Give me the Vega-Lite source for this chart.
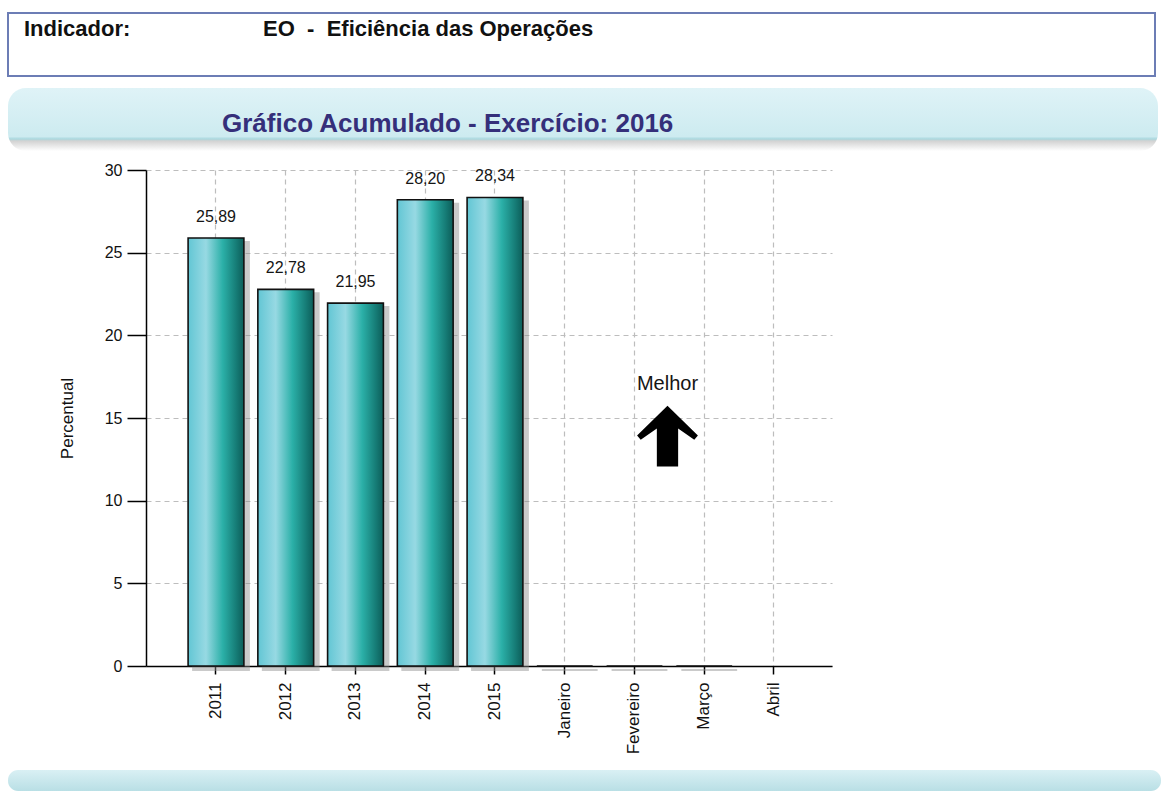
{
  "$schema": "https://vega.github.io/schema/vega-lite/v6.json",
  "background": "white",
  "padding": {"left": 7, "top": 12, "right": 0, "bottom": 0},
  "spacing": 11,
  "bounds": "full",
  "vconcat": [
    {
      "width": 1147,
      "height": 63,
      "view": {"fill": "white", "stroke": "#6c7db5", "strokeWidth": 2},
      "title": {
        "text": "Indicador:\u00a0\u00a0\u00a0\u00a0\u00a0\u00a0\u00a0\u00a0\u00a0\u00a0\u00a0\u00a0\u00a0\u00a0\u00a0\u00a0\u00a0\u00a0\u00a0\u00a0\u00a0\u2009EO\u00a0\u00a0-\u00a0\u00a0Eficiência das Operações",
        "anchor": "start",
        "frame": "group",
        "offset": -45,
        "baseline": "alphabetic",
        "dx": 16,
        "font": "Liberation Sans",
        "fontSize": 22,
        "fontWeight": "bold",
        "color": "#111111"
      },
      "data": {"values": [{"k": 1}]},
      "mark": {"type": "text"},
      "encoding": {"text": {"value": ""}}
    },
    {
      "width": 1150,
      "height": 63,
      "view": {
        "fill": {
          "gradient": "linear", "x1": 0, "y1": 0, "x2": 0, "y2": 1,
          "stops": [
            {"offset": 0, "color": "#dff3f7"},
            {"offset": 0.77, "color": "#cdebf0"},
            {"offset": 0.81, "color": "#a9d7de"},
            {"offset": 0.84, "color": "#d2d2d2"},
            {"offset": 1, "color": "#ffffff"}
          ]
        },
        "stroke": null,
        "cornerRadius": 18
      },
      "title": {
        "text": "Gráfico Acumulado - Exercício: 2016",
        "anchor": "start",
        "frame": "group",
        "offset": -70,
        "baseline": "alphabetic",
        "dx": 214,
        "font": "Liberation Sans",
        "fontSize": 26,
        "fontWeight": "bold",
        "color": "#352f7a"
      },
      "data": {"values": [{"k": 1}]},
      "mark": {"type": "text"},
      "encoding": {"text": {"value": ""}}
    },
    {
      "spacing": 128,
      "bounds": "flush",
      "hconcat": [
        {
          "width": 10,
          "height": 496,
          "data": {"values": [{"k": 1}]},
          "mark": {"type": "text"},
          "encoding": {"text": {"value": ""}}
        },
        {
          "width": 686,
          "height": 496,
          "data": {
            "values": [
              {"periodo": "2011", "percentual": 25.89},
              {"periodo": "2012", "percentual": 22.78},
              {"periodo": "2013", "percentual": 21.95},
              {"periodo": "2014", "percentual": 28.20},
              {"periodo": "2015", "percentual": 28.34},
              {"periodo": "Janeiro", "percentual": 0},
              {"periodo": "Fevereiro", "percentual": 0},
              {"periodo": "Março", "percentual": 0},
              {"periodo": "Abril", "percentual": null}
            ]
          },
          "encoding": {
            "x": {
              "field": "periodo",
              "type": "nominal",
              "sort": null,
              "scale": {
                "domain": ["2011", "2012", "2013", "2014", "2015", "Janeiro", "Fevereiro", "Março", "Abril"],
                "paddingInner": 0.2,
                "paddingOuter": 0.5176,
                "align": 0.583
              },
              "axis": {
                "title": "\u00a0",
                "titleX": 0,
                "titleY": 93,
                "titleAlign": "left",
                "titleBaseline": "bottom",
                "titleFontSize": 10,
                "labelAngle": -90,
                "labelFontSize": 17,
                "labelPadding": 8,
                "tickSize": 8,
                "bandPosition": 0.5,
                "grid": true
              }
            },
            "y": {
              "field": "percentual",
              "type": "quantitative",
              "scale": {"domain": [0, 30], "nice": false, "zero": true},
              "axis": {
                "title": "Percentual",
                "titleFontSize": 17,
                "titleFontWeight": "normal",
                "titlePadding": 28,
                "values": [0, 5, 10, 15, 20, 25, 30],
                "tickSize": 19,
                "labelPadding": 5,
                "labelFontSize": 16,
                "grid": true
              }
            }
          },
          "layer": [
            {
              "mark": {
                "type": "bar",
                "fill": "#8c8c8c",
                "opacity": 0.45,
                "stroke": "#8c8c8c",
                "strokeWidth": 2,
                "xOffset": 5,
                "yOffset": 4,
                "y2Offset": 4
              }
            },
            {
              "mark": {
                "type": "bar",
                "fill": {
                  "gradient": "linear", "x1": 0, "y1": 0, "x2": 1, "y2": 0,
                  "stops": [
                    {"offset": 0, "color": "#62c6d4"},
                    {"offset": 0.32, "color": "#97d9e3"},
                    {"offset": 0.62, "color": "#2bb0a8"},
                    {"offset": 0.85, "color": "#177f79"},
                    {"offset": 1, "color": "#0c5d59"}
                  ]
                },
                "stroke": "#111111",
                "strokeWidth": 1.6
              }
            },
            {
              "transform": [{"filter": "datum.percentual > 0"}],
              "mark": {
                "type": "text",
                "baseline": "alphabetic",
                "dy": -16,
                "fontSize": 16,
                "font": "Liberation Sans",
                "color": "#151515"
              },
              "encoding": {
                "text": {"field": "percentual", "type": "quantitative", "format": ".2f"}
              }
            },
            {
              "data": {"values": [{"periodo": "Fevereiro", "percentual": 16.7, "rotulo": "Melhor"}]},
              "mark": {
                "type": "text",
                "baseline": "alphabetic",
                "dx": 33,
                "fontSize": 20,
                "font": "Liberation Sans",
                "color": "#151515"
              },
              "encoding": {
                "text": {"field": "rotulo", "type": "nominal"}
              }
            },
            {
              "data": {"values": [{"periodo": "Fevereiro", "percentual": 13.9}]},
              "mark": {
                "type": "point",
                "shape": "M0,-1L1,-0.02L0.88,0.12L0.35,-0.25L0.35,1L-0.35,1L-0.35,-0.25L-0.88,0.12L-1,-0.02Z",
                "filled": true,
                "color": "#000000",
                "opacity": 1,
                "size": 3700,
                "xOffset": 33
              }
            }
          ]
        }
      ]
    },
    {
      "width": 1153,
      "height": 21,
      "view": {
        "fill": {
          "gradient": "linear", "x1": 0, "y1": 0, "x2": 0, "y2": 1,
          "stops": [
            {"offset": 0, "color": "#d9f0f4"},
            {"offset": 1, "color": "#b9dfe5"}
          ]
        },
        "stroke": null,
        "cornerRadius": 10
      },
      "data": {"values": [{"k": 1}]},
      "mark": {"type": "text"},
      "encoding": {"text": {"value": ""}}
    }
  ],
  "config": {
    "locale": {"number": {"decimal": ",", "thousands": ".", "grouping": [3], "currency": ["R$", ""]}},
    "font": "Liberation Sans",
    "view": {"stroke": null},
    "axis": {
      "labelFont": "Liberation Sans",
      "titleFont": "Liberation Sans",
      "labelColor": "#111111",
      "titleColor": "#111111",
      "domainColor": "#000000",
      "domainWidth": 1.5,
      "tickColor": "#000000",
      "tickWidth": 1.5,
      "gridColor": "#bdbdbd",
      "gridDash": [5, 4],
      "gridWidth": 1.2
    }
  }
}
